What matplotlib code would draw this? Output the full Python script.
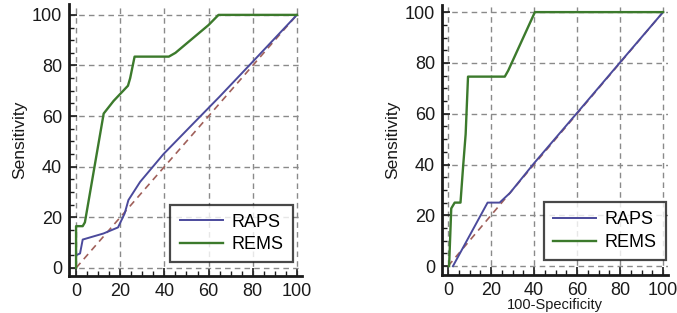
import matplotlib
matplotlib.use("Agg")
import matplotlib.pyplot as plt
from matplotlib.ticker import MultipleLocator

plt.rcParams['font.family'] = ['Liberation Sans', 'DejaVu Sans']

# Left panel data
left_raps_x = [0, 1.8, 3, 12.4, 19, 22, 23.7, 29, 39.6, 53, 65, 80, 100]
left_raps_y = [5, 5.7, 11.2, 13.6, 16, 21.5, 26.8, 34, 45, 57, 67.7, 81.5, 100]
left_rems_x = [0, 0, 3, 4, 12.5, 17, 23.5, 24.5, 26.5, 42, 45, 60, 64.5, 100]
left_rems_y = [0, 16.5, 16.5, 18, 61, 66, 72, 75, 83.5, 83.5, 85, 96, 100, 100]

# Right panel data
right_raps_x = [2.3, 18.4, 24, 28.8, 40, 60, 80, 100]
right_raps_y = [0, 25, 25, 28.8, 40.5, 60.3, 80.2, 100]
right_rems_x = [0.5, 1.5, 3.1, 5.8, 7, 8.2, 9.3, 26.4, 28, 40.4, 100]
right_rems_y = [0, 22.7, 25, 25, 39, 52, 74.6, 74.6, 77, 100, 100]

diag = [0, 100]
series_labels = ["RAPS", "REMS"]
ticks = [0, 20, 40, 60, 80, 100]

RAPS_COLOR = "#4b4a9c"
REMS_COLOR = "#3c7a2c"
DIAG_COLOR = "#a0605a"
TEXT_COLOR = "#1a1a1a"

W, H = 677, 313
fig = plt.figure(figsize=(W / 100, H / 100), dpi=100)

def px_axes(x0, x1, ytop, ybot):
    return fig.add_axes([x0 / W, (H - ybot) / H, (x1 - x0) / W, (ybot - ytop) / H])

def style(ax, xlim, ylim, legend_anchor):
    ax.set_xlim(*xlim)
    ax.set_ylim(*ylim)
    ax.set_xticks(ticks)
    ax.set_yticks(ticks)
    ax.xaxis.set_minor_locator(MultipleLocator(5))
    ax.yaxis.set_minor_locator(MultipleLocator(5))
    ax.tick_params(which='major', direction='in', length=6, width=1.2, labelsize=13,
                   colors=TEXT_COLOR, pad=5)
    ax.tick_params(which='minor', direction='in', length=3.5, width=1.0, colors=TEXT_COLOR)
    for s in ['top', 'right']:
        ax.spines[s].set_visible(False)
    for s in ['left', 'bottom']:
        ax.spines[s].set_linewidth(2.0)
        ax.spines[s].set_color('#1a1a1a')
    ax.grid(True, which='major', linestyle=(0, (4, 3)), color='#8a8a8a', linewidth=1.0)
    ax.set_axisbelow(True)
    ax.set_ylabel("Sensitivity", fontsize=12.5, color=TEXT_COLOR, labelpad=3)
    leg = ax.legend(loc='lower right', bbox_to_anchor=legend_anchor, fontsize=13,
                    frameon=True, fancybox=False, edgecolor='#1a1a1a',
                    handlelength=2.4, handletextpad=0.5, borderpad=0.5,
                    labelspacing=0.3, borderaxespad=0)
    leg.get_frame().set_linewidth(1.6)

ax1 = px_axes(69, 302, 4, 276)
ax1.plot(diag, diag, linestyle=(0, (4, 3)), color=DIAG_COLOR, linewidth=1.2)
ax1.plot(left_raps_x, left_raps_y, color=RAPS_COLOR, linewidth=1.4, label=series_labels[0])
ax1.plot(left_rems_x, left_rems_y, color=REMS_COLOR, linewidth=1.7, label=series_labels[1])
style(ax1, (-3.2, 102.3), (-3.2, 104.3), (0.961, 0.051))

ax2 = px_axes(442, 668, 5, 275)
ax2.plot(diag, diag, linestyle=(0, (4, 3)), color=DIAG_COLOR, linewidth=1.2)
ax2.plot(right_raps_x, right_raps_y, color=RAPS_COLOR, linewidth=1.4, label=series_labels[0])
ax2.plot(right_rems_x, right_rems_y, color=REMS_COLOR, linewidth=1.7, label=series_labels[1])
style(ax2, (-2.8, 102.3), (-3.5, 102.8), (0.991, 0.056))

fig.text(555 / W, 1.5 / H, "100-Specificity", ha='center', va='bottom', fontsize=10.5,
         color=TEXT_COLOR)

fig.savefig("out.png", dpi=100)
